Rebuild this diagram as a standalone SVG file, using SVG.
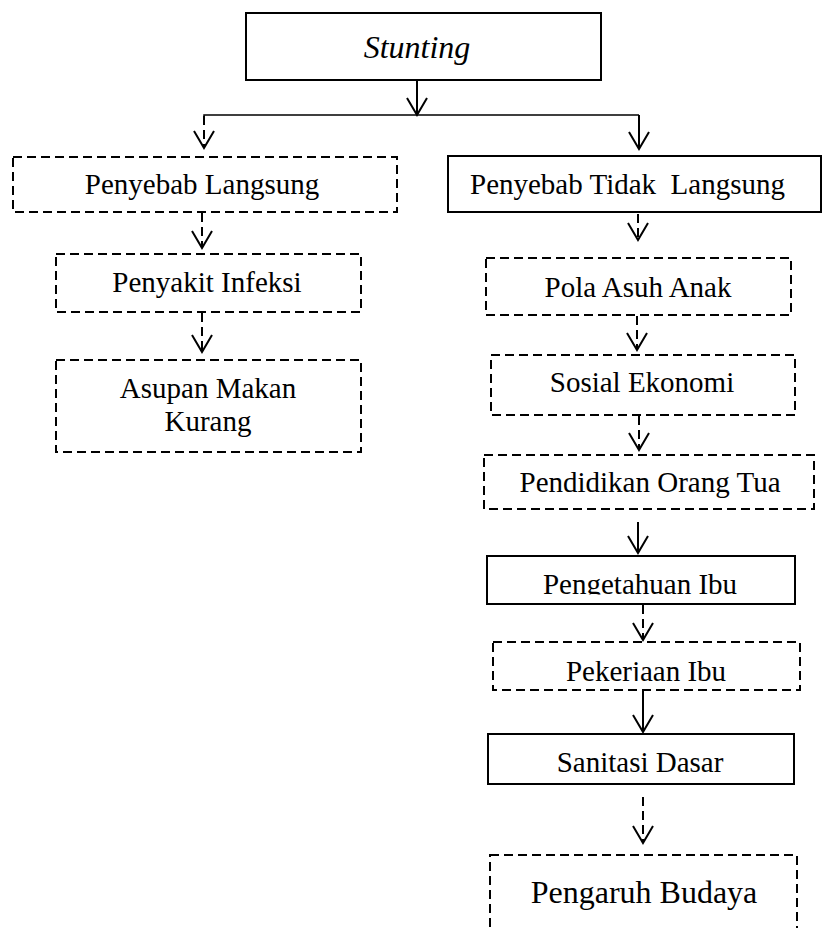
<svg xmlns="http://www.w3.org/2000/svg" width="822" height="928" viewBox="0 0 822 928">
<style>
.box{fill:#fff;stroke:#000;stroke-width:2}
.dash{stroke-dasharray:9 5}
.t{font-family:"Liberation Serif","Times New Roman",serif;font-size:29px;fill:#000;text-anchor:middle}
.c{fill:none;stroke:#000;stroke-width:2}
.cd{stroke-dasharray:9 5}
</style>
<defs>
<marker id="ah" viewBox="-20 -20 40 40" refX="0" refY="0" markerWidth="40" markerHeight="40" markerUnits="userSpaceOnUse" orient="auto" overflow="visible">
<path d="M-17,-10 L0,0 L-17,10" fill="none" stroke="#000" stroke-width="2" stroke-dasharray="none"/>
</marker>
<clipPath id="clipA"><rect x="480" y="550" width="320" height="44.5"/></clipPath>
<clipPath id="clipB"><rect x="480" y="640" width="330" height="41"/></clipPath>
</defs>
<g id="connectors">
<path class="c" d="M417,80 L417,115" marker-end="url(#ah)"/>
<path d="M204,125 L204,115 L639,115" fill="none" stroke="#000" stroke-width="1.5"/>
<path class="c cd" d="M204,116 L204,148" marker-end="url(#ah)"/>
<path class="c" d="M639,115 L639,149" marker-end="url(#ah)"/>
<path class="c cd" d="M202,213 L202,248" marker-end="url(#ah)"/>
<path class="c cd" d="M202,313 L202,352" marker-end="url(#ah)"/>
<path class="c cd" d="M638,214 L638,240" marker-end="url(#ah)"/>
<path class="c cd" d="M637,316 L637,350" marker-end="url(#ah)"/>
<path class="c cd" d="M639,416 L639,450" marker-end="url(#ah)"/>
<path class="c" d="M638,522 L638,553" marker-end="url(#ah)"/>
<path class="c cd" d="M643,605 L643,640" marker-end="url(#ah)"/>
<path class="c" d="M643,691 L643,732" marker-end="url(#ah)"/>
<path class="c cd" d="M643,797 L643,843" marker-end="url(#ah)"/>
</g>
<g id="stunting">
<rect class="box" x="246" y="13" width="355" height="67" fill="none"/>
<text class="t" x="417" y="58" style="font-style:italic;font-size:32px">Stunting</text>
</g>
<g id="penyebab-langsung">
<rect class="box dash" x="13" y="157" width="384" height="55" style="fill:none"/>
<text class="t" x="202" y="194">Penyebab Langsung</text>
</g>
<g id="penyakit-infeksi">
<rect class="box dash" x="56" y="254" width="305" height="58" style="fill:none"/>
<text class="t" x="207" y="292">Penyakit Infeksi</text>
</g>
<g id="asupan-makan">
<rect class="box dash" x="56" y="360" width="305" height="92" style="fill:none"/>
<text class="t" x="208" y="398">Asupan Makan</text>
<text class="t" x="208" y="431">Kurang</text>
</g>
<g id="penyebab-tidak-langsung">
<rect class="box" x="448" y="156" width="373" height="56" style="fill:none"/>
<text class="t" x="470" y="194" style="text-anchor:start;white-space:pre" xml:space="preserve">Penyebab Tidak  Langsung</text>
</g>
<g id="pola-asuh">
<rect class="box dash" x="486" y="258" width="305" height="57" style="fill:none"/>
<text class="t" x="638" y="297">Pola Asuh Anak</text>
</g>
<g id="sosial-ekonomi">
<rect class="box dash" x="491" y="355" width="304" height="60" style="fill:none"/>
<text class="t" x="642" y="392">Sosial Ekonomi</text>
</g>
<g id="pendidikan">
<rect class="box dash" x="484" y="455" width="330" height="54" style="fill:none"/>
<text class="t" x="650" y="492">Pendidikan Orang Tua</text>
</g>
<g id="pengetahuan">
<rect class="box" x="487" y="556" width="308" height="48" style="fill:none"/>
<text class="t" x="640" y="594" clip-path="url(#clipA)">Pengetahuan Ibu</text>
</g>
<g id="pekerjaan">
<rect class="box dash" x="493" y="642" width="307" height="48" style="fill:none"/>
<text class="t" x="646" y="681" clip-path="url(#clipB)">Pekerjaan Ibu</text>
</g>
<g id="sanitasi">
<rect class="box" x="488" y="734" width="306" height="50" style="fill:none"/>
<text class="t" x="640" y="772">Sanitasi Dasar</text>
</g>
<g id="pengaruh-budaya">
<rect class="box dash" x="490" y="855" width="307" height="100" style="fill:none"/>
<text class="t" x="644" y="903" style="font-size:32px">Pengaruh Budaya</text>
</g>
</svg>
